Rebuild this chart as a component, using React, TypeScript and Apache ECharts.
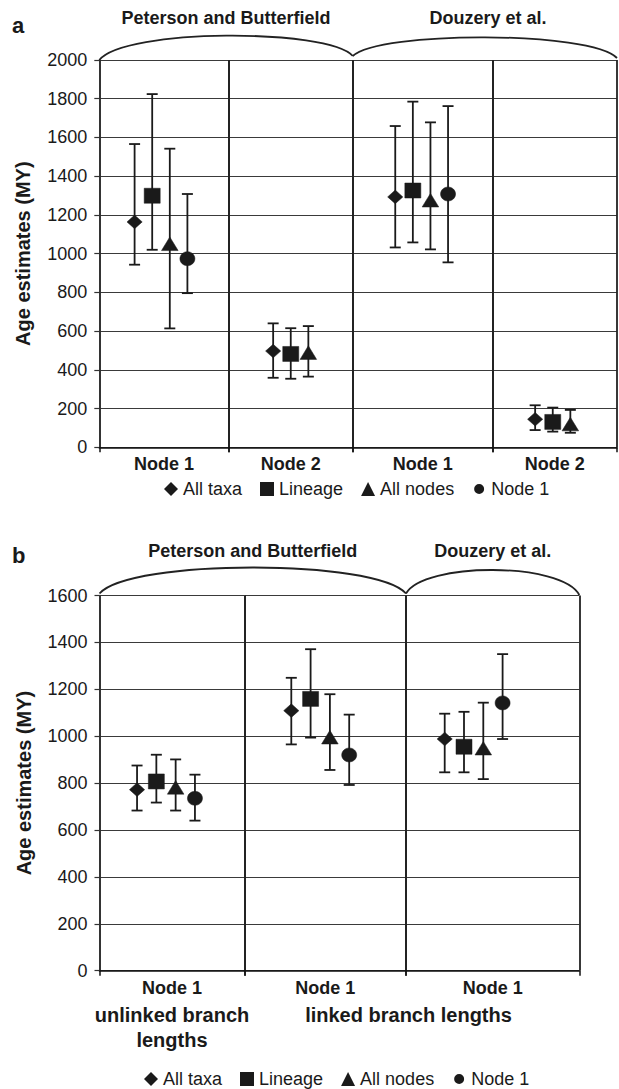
import React, { useEffect, useRef } from "react";
import * as echarts from "echarts";

// ---------- data ----------
const SERIES_NAMES = ["All taxa", "Lineage", "All nodes", "Node 1"];
const LEGEND_ICONS = [
  "diamond",
  "rect",
  "triangle",
  "path://M0,0L0.01,0M14,14L13.99,14M12,7A5,5,0,1,1,2,7A5,5,0,1,1,12,7Z",
];

// Panel a
const A_CATEGORIES = ["Node 1", "Node 2", "Node 1", "Node 2"];
const A_STUDIES = ["Peterson and Butterfield", "Douzery et al."];
const A_Y_TICKS = [0, 200, 400, 600, 800, 1000, 1200, 1400, 1600, 1800, 2000];

const A_ALL_TAXA = [1164, 497, 1293, 145];
const A_ALL_TAXA_LOW = [943, 359, 1032, 89];
const A_ALL_TAXA_HIGH = [1566, 640, 1659, 217];
const A_LINEAGE = [1299, 482, 1326, 131];
const A_LINEAGE_LOW = [1020, 354, 1058, 81];
const A_LINEAGE_HIGH = [1824, 615, 1785, 205];
const A_ALL_NODES = [1050, 488, 1275, 119];
const A_ALL_NODES_LOW = [614, 365, 1022, 75];
const A_ALL_NODES_HIGH = [1542, 626, 1678, 193];
const A_NODE1 = [974, null, 1308, null];
const A_NODE1_LOW = [796, null, 955, null];
const A_NODE1_HIGH = [1308, null, 1762, null];

// Panel b
const B_CATEGORIES = ["Node 1", "Node 1", "Node 1"];
const B_STUDIES = ["Peterson and Butterfield", "Douzery et al."];
const B_SUBLABELS = ["unlinked branch\nlengths", "linked branch lengths"];
const B_Y_TICKS = [0, 200, 400, 600, 800, 1000, 1200, 1400, 1600];

const B_ALL_TAXA = [772, 1109, 988];
const B_ALL_TAXA_LOW = [683, 965, 846];
const B_ALL_TAXA_HIGH = [875, 1249, 1096];
const B_LINEAGE = [807, 1159, 955];
const B_LINEAGE_LOW = [717, 994, 846];
const B_LINEAGE_HIGH = [921, 1371, 1104];
const B_ALL_NODES = [781, 995, 948];
const B_ALL_NODES_LOW = [683, 856, 817];
const B_ALL_NODES_HIGH = [901, 1179, 1143];
const B_NODE1 = [735, 920, 1142];
const B_NODE1_LOW = [640, 792, 988];
const B_NODE1_HIGH = [836, 1092, 1350];

// ---------- layout / style ----------
const FONT = "'Liberation Sans', Arial, Helvetica, sans-serif";
const INK = "#1a1a1a";

const PANELS = [
  {
    cats: A_CATEGORIES,
    mean: [A_ALL_TAXA, A_LINEAGE, A_ALL_NODES, A_NODE1],
    low: [A_ALL_TAXA_LOW, A_LINEAGE_LOW, A_ALL_NODES_LOW, A_NODE1_LOW],
    high: [A_ALL_TAXA_HIGH, A_LINEAGE_HIGH, A_ALL_NODES_HIGH, A_NODE1_HIGH],
    ticks: A_Y_TICKS,
    edges: [99.3, 228.7, 352.8, 492.5, 617],
    top: 60,
    bottom: 447.3,
    shift: [-3, 0, -1, -2],
    spacing: 17.6,
    legendLeft: 164,
    legendTop: 480,
  },
  {
    cats: B_CATEGORIES,
    mean: [B_ALL_TAXA, B_LINEAGE, B_ALL_NODES, B_NODE1],
    low: [B_ALL_TAXA_LOW, B_LINEAGE_LOW, B_ALL_NODES_LOW, B_NODE1_LOW],
    high: [B_ALL_TAXA_HIGH, B_LINEAGE_HIGH, B_ALL_NODES_HIGH, B_NODE1_HIGH],
    ticks: B_Y_TICKS,
    edges: [99.5, 244.5, 406, 579.3],
    top: 595.5,
    bottom: 970.7,
    shift: [-6, -5, -19],
    spacing: 19.3,
    legendLeft: 144,
    legendTop: 1070,
  },
];

function marker(s: number, x: number, y: number) {
  const style = { fill: INK, stroke: INK, lineWidth: 0.5 };
  if (s === 0)
    return {
      type: "polygon",
      shape: { points: [[x, y - 6.8], [x + 7.6, y], [x, y + 6.8], [x - 7.6, y]] },
      style,
    };
  if (s === 1)
    return { type: "rect", shape: { x: x - 8, y: y - 7.5, width: 16, height: 15 }, style };
  if (s === 2)
    return {
      type: "polygon",
      shape: { points: [[x, y - 7], [x + 8.3, y + 6.6], [x - 8.3, y + 6.6]] },
      style,
    };
  return { type: "ellipse", shape: { cx: x, cy: y, rx: 7.5, ry: 7 }, style };
}

function makeRender(s: number, rank: number, n: number, spacing: number, shift: number) {
  return (params: any, api: any) => {
    const c = api.coord([0, api.value(1)]);
    const pl = api.coord([0, api.value(2)]);
    const ph = api.coord([0, api.value(3)]);
    const x = c[0] + shift + (rank - (n - 1) / 2) * spacing;
    const y = c[1];
    const st = { stroke: INK, lineWidth: 1.8 };
    const cap = 5.5;
    return {
      type: "group",
      children: [
        { type: "line", shape: { x1: x, y1: ph[1], x2: x, y2: pl[1] }, style: st },
        { type: "line", shape: { x1: x - cap, y1: ph[1], x2: x + cap, y2: ph[1] }, style: st },
        { type: "line", shape: { x1: x - cap, y1: pl[1], x2: x + cap, y2: pl[1] }, style: st },
        marker(s, x, y),
      ],
    };
  };
}

function arc(x0: number, y0: number, x1: number, y1: number, peak: number) {
  const w = x1 - x0;
  const cpy = (8 * peak - y0 - y1) / 6;
  return {
    type: "bezierCurve",
    shape: { x1: x0, y1: y0, x2: x1, y2: y1, cpx1: x0 + 0.1 * w, cpy1: cpy, cpx2: x1 - 0.1 * w, cpy2: cpy },
    style: { stroke: "#222", lineWidth: 1.8, fill: "none" },
    z: 50,
  };
}

function txt(text: string, x: number, y: number, size: number, bold = true, align = "center") {
  return {
    type: "text",
    x,
    y,
    z: 50,
    style: {
      text,
      align,
      verticalAlign: "middle",
      fontSize: size,
      fontWeight: bold ? "bold" : "normal",
      fontFamily: FONT,
      fill: INK,
      lineHeight: 25,
    },
  };
}

function buildOption() {
  const grid: any[] = [];
  const xAxis: any[] = [];
  const yAxis: any[] = [];
  const series: any[] = [];
  const legend: any[] = [];

  PANELS.forEach((p) => {
    const maxV = p.ticks[p.ticks.length - 1];
    const step = p.ticks[1] - p.ticks[0];
    p.cats.forEach((cat, i) => {
      const gi = grid.length;
      const first = i === 0;
      grid.push({
        left: p.edges[i],
        top: p.top,
        width: p.edges[i + 1] - p.edges[i],
        height: p.bottom - p.top,
      });
      xAxis.push({
        type: "category",
        gridIndex: gi,
        data: [cat],
        boundaryGap: true,
        axisLine: { show: true, lineStyle: { color: "#111", width: 1.5 } },
        axisTick: { show: true, length: 5, lineStyle: { color: "#111", width: 1.5 } },
        axisLabel: {
          interval: 0,
          margin: 8,
          fontSize: 18,
          fontWeight: "bold",
          fontFamily: FONT,
          color: INK,
        },
        splitLine: { show: true, lineStyle: { color: "#222", width: 1.8 } },
      });
      yAxis.push({
        type: "value",
        gridIndex: gi,
        min: 0,
        max: maxV,
        interval: step,
        name: first ? "Age estimates (MY)" : "",
        nameLocation: "middle",
        nameGap: 66,
        nameTextStyle: { fontSize: 20, fontWeight: "bold", fontFamily: FONT, color: INK },
        axisLine: { show: first, lineStyle: { color: "#333", width: 1.5 } },
        axisTick: { show: first, length: 5, lineStyle: { color: "#333", width: 1.2 } },
        axisLabel: {
          show: first,
          margin: 12,
          fontSize: 18,
          fontFamily: FONT,
          color: INK,
          formatter: (v: number) => String(v),
        },
        splitLine: { show: true, lineStyle: { color: "#3a3a3a", width: 1 } },
      });
      const present = [0, 1, 2, 3].filter((s) => p.mean[s][i] != null);
      present.forEach((s, rank) => {
        series.push({
          type: "custom",
          name: SERIES_NAMES[s],
          xAxisIndex: gi,
          yAxisIndex: gi,
          itemStyle: { color: INK },
          encode: { x: 0, y: [1, 2, 3] },
          data: [[0, p.mean[s][i], p.low[s][i], p.high[s][i]]],
          renderItem: makeRender(s, rank, present.length, p.spacing, p.shift[i]),
          z: 10,
        });
      });
    });
    legend.push({
      left: p.legendLeft,
      top: p.legendTop,
      padding: 0,
      itemWidth: 14,
      itemHeight: 14,
      itemGap: 18,
      selectedMode: false,
      textStyle: { fontSize: 18, fontFamily: FONT, color: INK },
      data: SERIES_NAMES.map((n, k) => ({ name: n, icon: LEGEND_ICONS[k], itemStyle: { color: INK } })),
    });
  });

  const graphic: any[] = [
    txt("a", 12, 25, 22, true, "left"),
    txt(A_STUDIES[0], 226, 18, 18),
    txt(A_STUDIES[1], 488, 18, 18),
    arc(99.3, 60, 352.8, 56, 35.7),
    arc(352.8, 56, 617, 58, 37.3),
    txt("b", 12, 555, 22, true, "left"),
    txt(B_STUDIES[0], 252.7, 551, 18),
    txt(B_STUDIES[1], 492.8, 551, 18),
    arc(99.5, 593.5, 406, 593.5, 567.5),
    arc(406, 593.5, 579.3, 595, 570),
    txt(B_SUBLABELS[0], 172, 1027.5, 20),
    txt(B_SUBLABELS[1], 408.5, 1015, 20),
  ];

  return {
    animation: false,
    backgroundColor: "#ffffff",
    textStyle: { fontFamily: FONT },
    grid,
    xAxis,
    yAxis,
    series,
    legend,
    graphic,
  };
}

export default function App() {
  const ref = useRef<HTMLDivElement>(null);
  useEffect(() => {
    document.body.style.margin = "0";
    if (!ref.current) return;
    const chart = echarts.init(ref.current, undefined, { renderer: "svg" });
    chart.setOption(buildOption() as any);
    return () => chart.dispose();
  }, []);
  return <div ref={ref} style={{ width: 619, height: 1089 }} />;
}
